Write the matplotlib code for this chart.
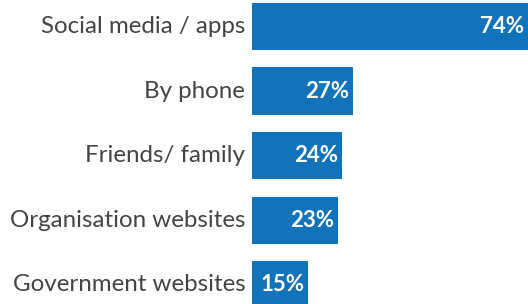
import matplotlib
matplotlib.use("Agg")
import matplotlib.pyplot as plt

categories = ["Social media / apps", "By phone", "Friends/ family",
              "Organisation websites", "Government websites"]
values = [74, 27, 24, 23, 15]

BLUE = "#1173ba"

fig = plt.figure(figsize=(5.28, 3.04), dpi=100)
ax = fig.add_axes([252 / 528, 0, 1 - 252 / 528, 1])

ypos = list(range(len(categories)))
ax.barh(ypos, values, height=0.73, color=BLUE)
ax.set_xlim(0, 74)
ax.set_ylim(4.30, -0.41)

for y, v in zip(ypos, values):
    ax.text(v - 1.0, y, f"{v}%", ha="right", va="center", color="white",
            fontsize=16, fontweight="bold", family="Lato")
    ax.text(-1.8, y, categories[y], ha="right", va="center", color="#444444",
            fontsize=17.4, family="Lato")

ax.axis("off")
fig.savefig("out.png", dpi=100)
